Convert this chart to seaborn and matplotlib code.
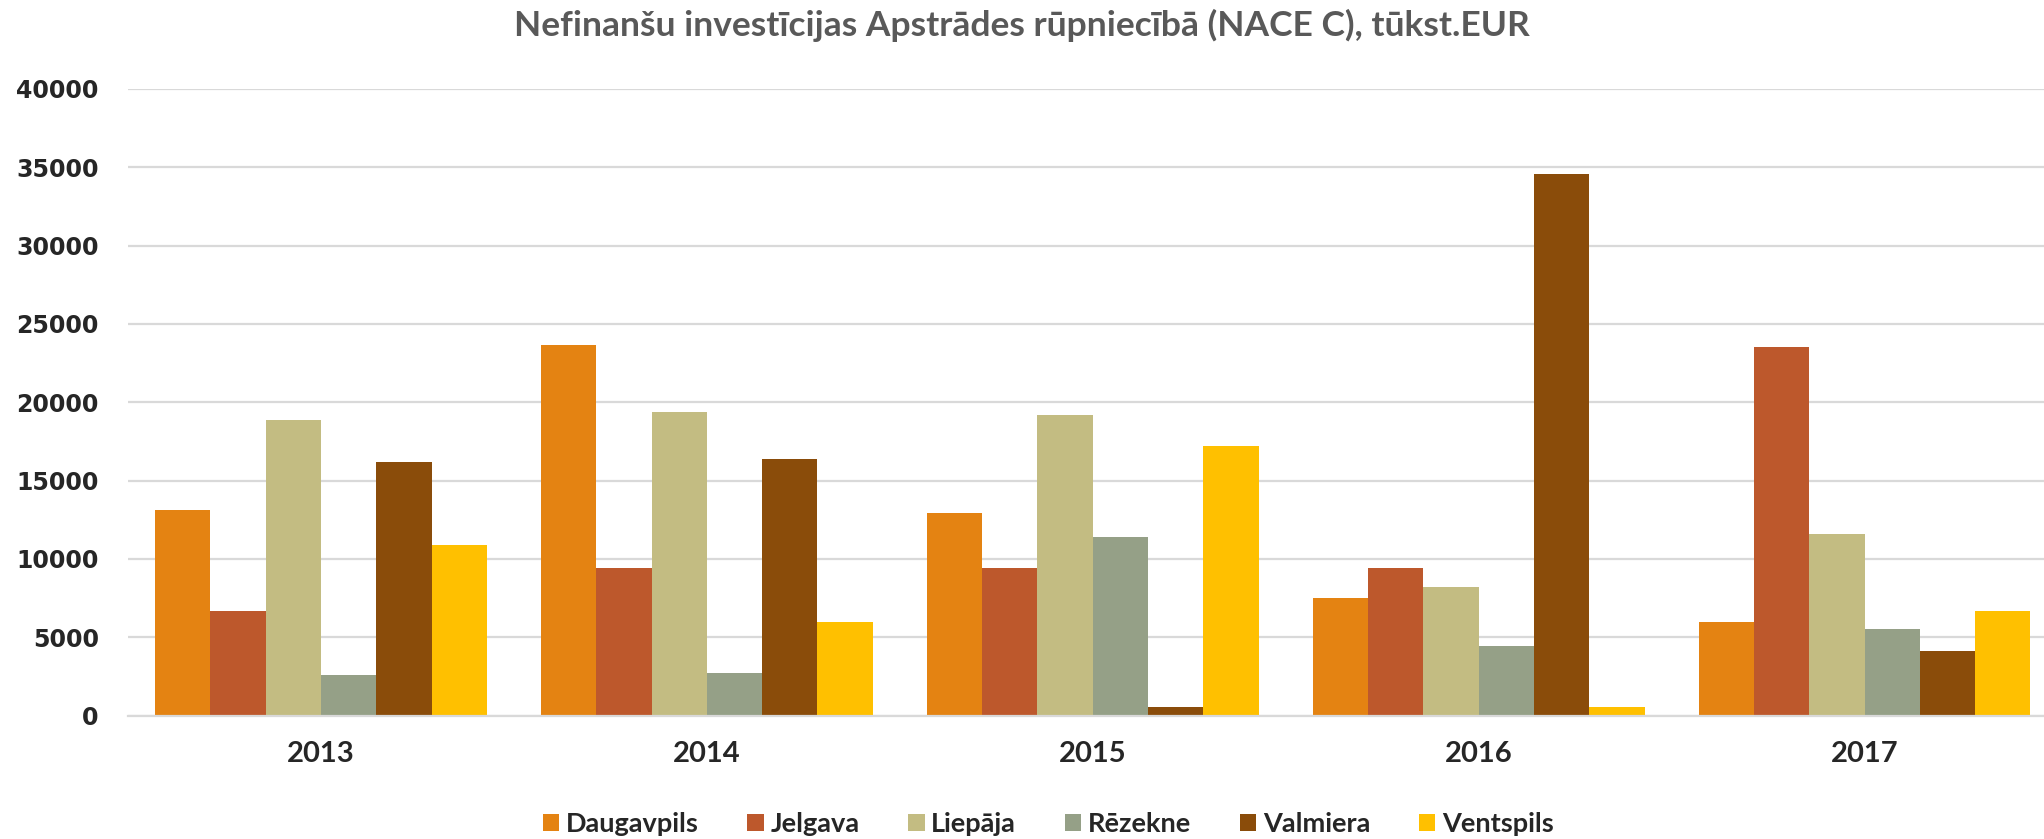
import seaborn as sns
import pandas as pd
import matplotlib.pyplot as plt

# dati no attēla (tūkst. EUR)
years = ['2013', '2014', '2015', '2016', '2017']
cities = ['Daugavpils', 'Jelgava', 'Liepāja', 'Rēzekne', 'Valmiera', 'Ventspils']
daugavpils = [13100, 23650, 12950, 7500, 6000]
jelgava = [6700, 9400, 9400, 9400, 23500]
liepaja = [18900, 19400, 19200, 8200, 11600]
rezekne = [2600, 2750, 11400, 4450, 5500]
valmiera = [16200, 16350, 550, 34550, 4150]
ventspils = [10900, 6000, 17200, 550, 6700]
colors = ['#E48312', '#BD582C', '#C3BC82', '#95A087', '#8A4C0A', '#FFC000']
yticks = [0, 5000, 10000, 15000, 20000, 25000, 30000, 35000, 40000]

series = [daugavpils, jelgava, liepaja, rezekne, valmiera, ventspils]
rows = []
for city, vals in zip(cities, series):
    for y, v in zip(years, vals):
        rows.append({'Gads': y, 'Pilsēta': city, 'Vērtība': v})
df = pd.DataFrame(rows)

sns.set_style('white')
plt.rcParams['font.family'] = ['Lato', 'DejaVu Sans']

fig = plt.figure(figsize=(20.44, 8.39), dpi=100)
ax = fig.add_axes([0.0626, 0.147, 0.944, 0.747])

sns.barplot(data=df, x='Gads', y='Vērtība', hue='Pilsēta', hue_order=cities,
            palette=colors, saturation=1, width=0.86, linewidth=0, ax=ax,
            errorbar=None, legend=True)

ax.set_ylim(0, 40000)
ax.set_yticks(yticks)
ax.set_yticklabels([str(t) for t in yticks], family='DejaVu Sans',
                   fontweight='bold', fontsize=17)
for lab in ax.get_xticklabels():
    lab.set_fontweight('bold')
    lab.set_fontsize(21)
ax.tick_params(axis='both', length=0)
ax.tick_params(axis='y', pad=21)
ax.tick_params(axis='x', pad=18)
ax.set_xlabel('')
ax.set_ylabel('')
ax.yaxis.grid(True, color='#D9D9D9', linewidth=1.6)
ax.set_axisbelow(True)
for s in ['top', 'right', 'left']:
    ax.spines[s].set_visible(False)
ax.spines['bottom'].set_color('#D9D9D9')
ax.spines['bottom'].set_linewidth(1.6)

ax.legend(loc='upper center', bbox_to_anchor=(0.477, -0.115), ncol=6, frameon=False,
          prop={'weight': 'bold', 'size': 19.5}, handlelength=0.6, handleheight=0.6,
          handletextpad=0.25, columnspacing=1.8)

fig.suptitle('Nefinanšu investīcijas Apstrādes rūpniecībā (NACE C), tūkst.EUR',
             y=0.99, fontsize=25.5, fontweight='bold', color='#595959')

fig.savefig('out.png', dpi=100)
